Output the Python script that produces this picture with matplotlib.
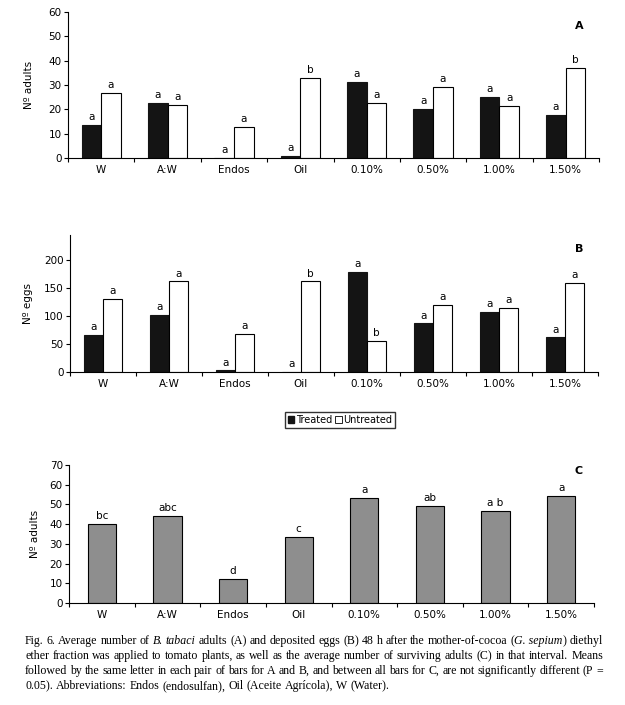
"""
plot.py

Recreate Fig. 6: B. tabaci adults (A), eggs (B) and surviving adults (C)
after G. sepium diethyl ether fraction treatments.
"""

import numpy as np
import matplotlib
matplotlib.use("Agg")
import matplotlib.pyplot as plt
from matplotlib.patches import Patch


CATEGORIES = ["W", "A:W", "Endos", "Oil", "0.10%", "0.50%", "1.00%", "1.50%"]

ADULTS_TREATED = [13.7, 22.7, 0.0, 1.0, 31.4, 20.3, 25.2, 17.8]
ADULTS_UNTREATED = [26.7, 21.9, 12.9, 33.0, 22.6, 29.2, 21.4, 37.0]
ADULTS_TREATED_LETTERS = ["a", "a", "a", "a", "a", "a", "a", "a"]
ADULTS_UNTREATED_LETTERS = ["a", "a", "a", "b", "a", "a", "a", "b"]

EGGS_TREATED = [65.7, 101.5, 3.0, 0.0, 178.5, 87.0, 107.5, 62.0]
EGGS_UNTREATED = [131.0, 162.0, 68.7, 162.0, 55.0, 120.6, 115.0, 159.0]
EGGS_TREATED_LETTERS = ["a", "a", "a", "a", "a", "a", "a", "a"]
EGGS_UNTREATED_LETTERS = ["a", "a", "a", "b", "b", "a", "a", "a"]

SURVIVORS = [40.0, 44.1, 12.4, 33.4, 53.3, 49.2, 46.7, 54.3]
SURVIVOR_LETTERS = ["bc", "abc", "d", "c", "a", "ab", "a b", "a"]

CAPTION_LINES = [
    [("Fig.", False), ("6.", False), ("Average", False), ("number", False), ("of", False),
     ("B.", True), ("tabaci", True), ("adults", False), ("(A)", False), ("and", False),
     ("deposited", False), ("eggs", False), ("(B)", False), ("48", False), ("h", False),
     ("after", False), ("the", False), ("mother-of-cocoa", False), ("(", False, "G. sepium", ")"),
     ("diethyl", False)],
    [(w, False) for w in "ether fraction was applied to tomato plants, as well as the "
     "average number of surviving adults (C) in that interval. Means".split()],
    [(w, False) for w in "followed by the same letter in each pair of bars for A and B, "
     "and between all bars for C, are not significantly different (P =".split()],
    [(w, False) for w in "0.05). Abbreviations: Endos (endosulfan), Oil (Aceite "
     "Agrícola), W (Water).".split()],
]

FIG_W, FIG_H = 625, 705
SANS = ["Liberation Sans Narrow", "DejaVu Sans"]
SERIF = ["Liberation Serif", "DejaVu Serif"]
TICK_SIZE = 7.5

plt.rcParams["font.family"] = SANS
plt.rcParams["axes.linewidth"] = 0.8


def px_axes(left, right, top, bottom):
    """Axes rectangle from pixel edges (top-left origin)."""
    return [left / FIG_W, 1 - bottom / FIG_H, (right - left) / FIG_W, (bottom - top) / FIG_H]


def style_axes(ax, ymax, yticks, ylabel, label_x, panel, panel_xy):
    n = len(CATEGORIES)
    ax.set_xlim(0, n)
    ax.set_ylim(0, ymax)
    ax.spines["top"].set_visible(False)
    ax.spines["right"].set_visible(False)
    ax.set_xticks(np.arange(n + 1))
    ax.set_xticklabels([])
    ax.set_xticks(np.arange(n) + 0.5, minor=True)
    ax.set_xticklabels(CATEGORIES, minor=True, fontsize=TICK_SIZE)
    ax.tick_params(axis="x", which="major", direction="out", length=3, width=0.8)
    ax.tick_params(axis="x", which="minor", length=0, pad=5)
    ax.set_yticks(yticks)
    ax.tick_params(axis="y", direction="out", length=3, width=0.8, labelsize=TICK_SIZE, pad=1.5)
    ax.set_ylabel(ylabel, fontsize=TICK_SIZE)
    ax.yaxis.set_label_coords(label_x, 0.5)
    ax.text(panel_xy[0], panel_xy[1], panel, transform=ax.transAxes, fontsize=8,
            fontweight="bold", ha="center", va="center")


def label_bars(ax, xs, heights, letters):
    for x, h, s in zip(xs, heights, letters):
        ax.annotate(s, (x, h), xytext=(0, 2), textcoords="offset points",
                    ha="center", va="bottom", fontsize=TICK_SIZE)


def plot_pair(ax, treated, untreated, t_letters, u_letters):
    x = np.arange(len(CATEGORIES)) + 0.5
    width = 0.295
    ax.bar(x - width / 2, treated, width=width, color="#141414", edgecolor="#141414", linewidth=0.8)
    ax.bar(x + width / 2, untreated, width=width, color="white", edgecolor="black", linewidth=0.8)
    label_bars(ax, x - width / 2, treated, t_letters)
    label_bars(ax, x + width / 2, untreated, u_letters)


def draw_caption(fig):
    renderer = fig.canvas.get_renderer()
    x0, x1 = 25, 603
    baselines = [644, 659, 674, 689]
    size = 8.6

    def word_parts(item):
        if len(item) == 4:
            return [(item[0], False), (item[2], True), (item[3], False)]
        return [(item[0], item[1])]

    def measure(text, italic):
        t = fig.text(0, 0, text, fontsize=size, family=SERIF,
                     style="italic" if italic else "normal")
        w = t.get_window_extent(renderer).width
        t.remove()
        return w

    space = measure("a b", False) - measure("ab", False)
    for i, (line, y) in enumerate(zip(CAPTION_LINES, baselines)):
        words = [word_parts(item) for item in line]
        widths = [[measure(txt, it) for txt, it in parts] for parts in words]
        total = sum(sum(w) for w in widths)
        if i < len(CAPTION_LINES) - 1:
            gap = (x1 - x0 - total) / (len(words) - 1)
        else:
            gap = space
        x = x0
        for parts, wlist in zip(words, widths):
            for (txt, it), w in zip(parts, wlist):
                fig.text(x / FIG_W, 1 - y / FIG_H, txt, fontsize=size, family=SERIF,
                         style="italic" if it else "normal", va="baseline", ha="left")
                x += w
            x += gap


def main():
    fig = plt.figure(figsize=(FIG_W / 100, FIG_H / 100), dpi=100)

    ax_a = fig.add_axes(px_axes(68, 599, 12, 158))
    plot_pair(ax_a, ADULTS_TREATED, ADULTS_UNTREATED,
              ADULTS_TREATED_LETTERS, ADULTS_UNTREATED_LETTERS)
    style_axes(ax_a, 60, np.arange(0, 61, 10), "Nº adults", -0.064, "A", (0.962, 0.904))

    ax_b = fig.add_axes(px_axes(70, 598, 235, 372))
    plot_pair(ax_b, EGGS_TREATED, EGGS_UNTREATED,
              EGGS_TREATED_LETTERS, EGGS_UNTREATED_LETTERS)
    style_axes(ax_b, 245, np.arange(0, 201, 50), "Nº eggs", -0.07, "B", (0.964, 0.898))

    ax_c = fig.add_axes(px_axes(69, 594, 465, 603))
    xc = np.arange(len(CATEGORIES)) + 0.5
    ax_c.bar(xc, SURVIVORS, width=0.43, color="#8e8e8e", edgecolor="black", linewidth=0.8)
    label_bars(ax_c, xc, SURVIVORS, SURVIVOR_LETTERS)
    style_axes(ax_c, 70, np.arange(0, 71, 10), "Nº adults", -0.055, "C", (0.97, 0.957))

    handles = [Patch(facecolor="#141414", edgecolor="#141414"),
               Patch(facecolor="white", edgecolor="black", linewidth=0.6)]
    fig.legend(handles, ["Treated", "Untreated"], loc="center",
               bbox_to_anchor=(340 / FIG_W, 1 - 420 / FIG_H), ncol=2,
               fontsize=7, frameon=True, fancybox=False, edgecolor="black",
               handlelength=0.7, handleheight=0.7, handletextpad=0.15,
               columnspacing=0.3, borderpad=0.3, borderaxespad=0)

    draw_caption(fig)

    fig.savefig("out.png", dpi=100)
    plt.close(fig)


if __name__ == "__main__":
    main()
